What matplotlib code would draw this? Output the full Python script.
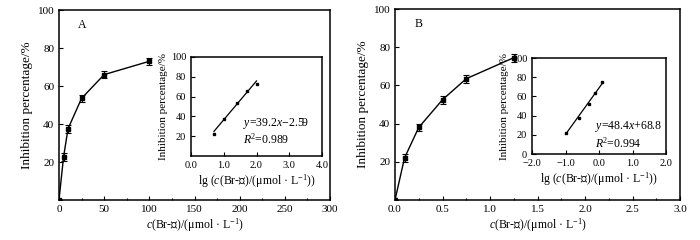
import numpy as np
import matplotlib
matplotlib.use('Agg')
import matplotlib.pyplot as plt
from matplotlib.ticker import MultipleLocator

plt.rcParams['font.family'] = ['Liberation Serif', 'DejaVu Serif']
plt.rcParams['mathtext.fontset'] = 'custom'
plt.rcParams['mathtext.it'] = 'Liberation Serif:italic'
plt.rcParams['mathtext.rm'] = 'Liberation Serif'

# panel A data
conc_a = [0, 5, 10, 25, 50, 100]
inh_a = [0, 22.5, 37.5, 53.5, 66.0, 73.0]
err_a = [0, 2.0, 2.0, 2.0, 2.0, 2.0]
lg_a = [0.70, 1.00, 1.40, 1.70, 2.00]
slope_a, icpt_a = 39.2, -2.59

# panel B data
conc_b = [0, 0.10, 0.25, 0.50, 0.75, 1.25]
inh_b = [0, 22.0, 38.0, 52.5, 63.5, 74.5]
err_b = [0, 2.0, 2.0, 2.0, 2.0, 2.0]
lg_b = [-1.00, -0.60, -0.30, -0.125, 0.097]
slope_b, icpt_b = 48.4, 68.8

fig = plt.figure(figsize=(7, 2.4), dpi=100)
W, H = 700, 240

def box(l, t, r, b):
    return [l / W, 1 - b / H, (r - l) / W, (b - t) / H]

def style(ax, fs=7.5):
    ax.tick_params(direction='in', which='both', labelsize=fs, width=0.8)
    ax.tick_params(which='major', length=3)
    ax.tick_params(which='minor', length=1.5)
    for s in ax.spines.values():
        s.set_linewidth(1.1)

def main_panel(rect, x, y, e, xmax, xstep, letter, fmt):
    ax = fig.add_axes(rect)
    ax.errorbar(x, y, yerr=e, color='black', marker='s', ms=3, lw=1.0,
                capsize=2, elinewidth=0.8, capthick=0.8)
    ax.set_xlim(0, xmax)
    ax.set_ylim(0, 100)
    ax.set_xticks(np.arange(0, xmax + xstep / 2, xstep))
    ax.set_xticklabels([fmt.format(v) for v in np.arange(0, xmax + xstep / 2, xstep)])
    ax.xaxis.set_minor_locator(MultipleLocator(xstep / 2))
    ax.set_yticks([20, 40, 60, 80, 100])
    style(ax, 8)
    ax.set_ylabel('Inhibition percentage/%', fontsize=9.5, labelpad=3)
    ax.set_xlabel(r'$c$(Br-Ⅱ)/(μmol · L$^{-1}$)', fontsize=8.5, labelpad=2)
    ax.text(0.07, 0.92, letter, transform=ax.transAxes, fontsize=8.5, va='center')
    return ax

def inset(rect, lg, y, slope, icpt, xlim, xticks, yticks, eq, ex, ey):
    ax = fig.add_axes(rect)
    ax.plot(lg, y, 's', color='black', ms=2)
    xx = np.array([lg[0], lg[-1]])
    ax.plot(xx, slope * xx + icpt, color='black', lw=0.9)
    ax.set_xlim(*xlim)
    ax.set_ylim(0, 100)
    ax.set_xticks(xticks)
    ax.set_xticklabels(['{:.1f}'.format(v).replace('-', '−') for v in xticks])
    ax.set_yticks(yticks)
    style(ax, 7.5)
    ax.set_ylabel('Inhibition percentage/%', fontsize=8, labelpad=2)
    ax.set_xlabel(r'lg ($c$(Br-Ⅱ)/(μmol · L$^{-1}$))', fontsize=8.5, labelpad=2)
    ax.text(ex, ey, eq, transform=ax.transAxes, fontsize=8.5, va='center',
            linespacing=1.1)
    return ax

main_panel(box(59, 10, 330, 200), conc_a, inh_a, err_a, 300, 50, 'A', '{:.0f}')
main_panel(box(395, 9, 680, 200), conc_b, inh_b, err_b, 3.0, 0.5, 'B', '{:.1f}')

inset(box(191, 57, 322, 156), lg_a, inh_a[1:], slope_a, icpt_a, (0, 4),
      [0, 1, 2, 3, 4], [20, 40, 60, 80, 100],
      '$y$=39.2$x$−2.59\n$R$$^2$=0.989', 0.40, 0.25)
inset(box(532, 58, 666, 154), lg_b, inh_b[1:], slope_b, icpt_b, (-2, 2),
      [-2, -1, 0, 1, 2], [0, 20, 40, 60, 80, 100],
      '$y$=48.4$x$+68.8\n$R$$^2$=0.994', 0.47, 0.20)

fig.savefig('out.png', dpi=100)
